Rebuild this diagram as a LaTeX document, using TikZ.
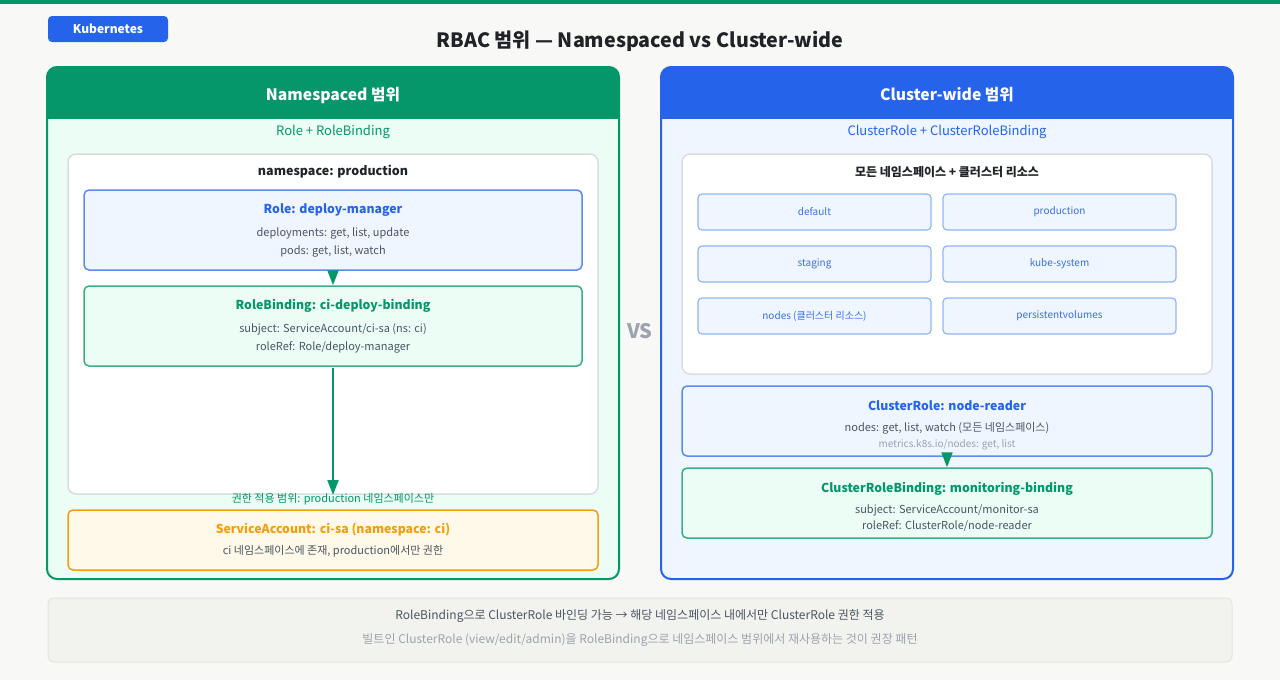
\documentclass[tikz,border=0pt]{standalone}
\usepackage{fontspec}
\setmainfont{Noto Sans CJK KR}
\usetikzlibrary{arrows.meta}
\definecolor{bg}{HTML}{F8F9F6}
\definecolor{grn}{HTML}{059669}
\definecolor{grnlt}{HTML}{3DAE86}
\definecolor{mint}{HTML}{ECFDF5}
\definecolor{blu}{HTML}{2563EB}
\definecolor{blubd}{HTML}{5B8DEF}
\definecolor{blult}{HTML}{EFF6FF}
\definecolor{gridbd}{HTML}{93B4F5}
\definecolor{gridtx}{HTML}{3B6FE0}
\definecolor{txgray}{HTML}{4B5563}
\definecolor{txlt}{HTML}{9CA3AF}
\definecolor{org}{HTML}{F59E0B}
\definecolor{ylw}{HTML}{FEF9E8}
\definecolor{innerbd}{HTML}{D9DCE0}
\definecolor{dark}{HTML}{1F2328}
\definecolor{notefill}{HTML}{F2F3EE}
\definecolor{notebd}{HTML}{E3E5DE}
\begin{document}
\begin{tikzpicture}[x=1pt,y=-1pt,
  box/.style={draw, rounded corners=5pt, inner sep=0pt, line width=1.5pt},
  panel/.style={rounded corners=10pt, inner sep=0pt, line width=2pt},
  txt/.style={inner sep=0pt, anchor=center, yshift=-1pt},
  ttl/.style={txt, font=\bfseries\fontsize{12.3}{15}\selectfont},
  body/.style={txt, font=\fontsize{11}{13}\selectfont, text=txgray},
  gridbox/.style={draw=gridbd, fill=blult, rounded corners=4pt, inner sep=0pt, line width=1.2pt, minimum width=233pt, minimum height=36pt, font=\fontsize{10}{12}\selectfont, text=gridtx},
  flow/.style={draw=grn, line width=2pt, -{Triangle[width=11pt,length=15pt]}}
]
\useasboundingbox (0,0) rectangle (1280,680);
\fill[bg] (0,0) rectangle (1280,680);
\fill[grn] (0,0) rectangle (1280,3.5);

% badge and title
\node[fill=blu, rounded corners=4pt, minimum width=120pt, minimum height=26pt, inner sep=0pt, text=white, font=\bfseries\fontsize{12}{14}\selectfont] (badge) at (108,29) {Kubernetes};
\node[txt, text=dark, font=\bfseries\fontsize{19.7}{24}\selectfont] (title) at (640,40) {RBAC 범위 — Namespaced vs Cluster-wide};

% ===== left panel =====
\node[panel, fill=mint, minimum width=570pt, minimum height=510pt] (lp) at (333,323) {};
\begin{scope}
  \clip[rounded corners=10pt] (lp.north west) rectangle (lp.south east);
  \fill[grn] (lp.north west) rectangle ([yshift=-52pt]lp.north east);
\end{scope}
\draw[grn, line width=2pt, rounded corners=10pt] (lp.north west) rectangle (lp.south east);
\node[txt, text=white, font=\bfseries\fontsize{15.7}{19}\selectfont] (lph) at (333,94) {Namespaced 범위};
\node[txt, text=grn, font=\fontsize{13}{15}\selectfont] (lps) at (333,131) {Role + RoleBinding};

\node[draw=innerbd, fill=white, rounded corners=8pt, line width=1.5pt, inner sep=0pt, minimum width=530pt, minimum height=340pt] (ns) at (333,324) {};
\node[txt, text=dark, font=\bfseries\fontsize{12.5}{15}\selectfont] (nsT) at (333,171) {namespace: production};

\node[box, draw=blubd, fill=blult, minimum width=498pt, minimum height=80pt] (role) at (333,230) {};
\node[ttl, text=blu] (roleT) at (333,209) {Role: deploy-manager};
\node[body] (roleL1) at (333,232) {deployments: get, list, update};
\node[body] (roleL2) at (333,250) {pods: get, list, watch};

\node[box, draw=grnlt, fill=mint, minimum width=498pt, minimum height=80pt] (rb) at (333,326) {};
\node[ttl, text=grn] (rbT) at (333,305) {RoleBinding: ci-deploy-binding};
\node[body] (rbL1) at (333,328) {subject: ServiceAccount/ci-sa (ns: ci)};
\node[body] (rbL2) at (333,346) {roleRef: Role/deploy-manager};

\coordinate (scopeEnd) at (333,495);
\draw[flow] (role.south) -- (rb.north);
\draw[flow] ([yshift=-1pt]rb.south) -- (scopeEnd);
\node[txt, text=grn, font=\fontsize{11}{13}\selectfont] (scopeL) at (333,498) {권한 적용 범위: production 네임스페이스만};

\node[box, draw=org, fill=ylw, minimum width=530pt, minimum height=60pt] (sa) at (333,540) {};
\node[ttl, text=org] (saT) at (333,529) {ServiceAccount: ci-sa (namespace: ci)};
\node[body] (saL1) at (333,550) {ci 네임스페이스에 존재, production에서만 권한};

% VS
\node[txt, text=txlt, font=\bfseries\fontsize{20}{24}\selectfont] (vs) at (640,330) {VS};

% ===== right panel =====
\node[panel, fill=blult, minimum width=570pt, minimum height=510pt] (rp) at (947,323) {};
\begin{scope}
  \clip[rounded corners=10pt] (rp.north west) rectangle (rp.south east);
  \fill[blu] (rp.north west) rectangle ([yshift=-52pt]rp.north east);
\end{scope}
\draw[blu, line width=2pt, rounded corners=10pt] (rp.north west) rectangle (rp.south east);
\node[txt, text=white, font=\bfseries\fontsize{15.7}{19}\selectfont] (rph) at (947,94) {Cluster-wide 범위};
\node[txt, text=blu, font=\fontsize{13}{15}\selectfont] (rps) at (947,131) {ClusterRole + ClusterRoleBinding};

\node[draw=innerbd, fill=white, rounded corners=8pt, line width=1.5pt, inner sep=0pt, minimum width=530pt, minimum height=220pt] (all) at (947,264) {};
\node[txt, text=dark, font=\bfseries\fontsize{12}{14}\selectfont] (allT) at (947,171) {모든 네임스페이스 + 클러스터 리소스};

\node[gridbox] (g1) at (814.5,212) {default};
\node[gridbox] (g2) at (1059.5,212) {production};
\node[gridbox] (g3) at (814.5,264) {staging};
\node[gridbox] (g4) at (1059.5,264) {kube-system};
\node[gridbox] (g5) at (814.5,316) {nodes (클러스터 리소스)};
\node[gridbox] (g6) at (1059.5,316) {persistentvolumes};

\node[box, draw=blubd, fill=blult, minimum width=530pt, minimum height=70pt] (cr) at (947,421) {};
\node[ttl, text=blu] (crT) at (947,405) {ClusterRole: node-reader};
\node[body] (crL1) at (947,427) {nodes: get, list, watch (모든 네임스페이스)};
\node[txt, text=txlt, font=\fontsize{10}{12}\selectfont] (crL2) at (947,444) {metrics.k8s.io/nodes: get, list};

\node[box, draw=grnlt, fill=mint, minimum width=530pt, minimum height=70pt] (crb) at (947,503) {};
\draw[flow] (cr.south) -- (crb.north);
\node[ttl, text=grn] (crbT) at (947,488) {ClusterRoleBinding: monitoring-binding};
\node[body] (crbL1) at (947,509) {subject: ServiceAccount/monitor-sa};
\node[body] (crbL2) at (947,525) {roleRef: ClusterRole/node-reader};

% ===== bottom note =====
\node[draw=notebd, fill=notefill, rounded corners=6pt, line width=1pt, inner sep=0pt, minimum width=1184pt, minimum height=64pt] (note) at (640,630) {};
\node[txt, text=txgray, font=\fontsize{12}{14}\selectfont] (noteL1) at (640,615) {RoleBinding으로 ClusterRole 바인딩 가능 → 해당 네임스페이스 내에서만 ClusterRole 권한 적용};
\node[txt, text=txlt, font=\fontsize{12}{14}\selectfont] (noteL2) at (640,639) {빌트인 ClusterRole (view/edit/admin)을 RoleBinding으로 네임스페이스 범위에서 재사용하는 것이 권장 패턴};
\end{tikzpicture}
\end{document}
